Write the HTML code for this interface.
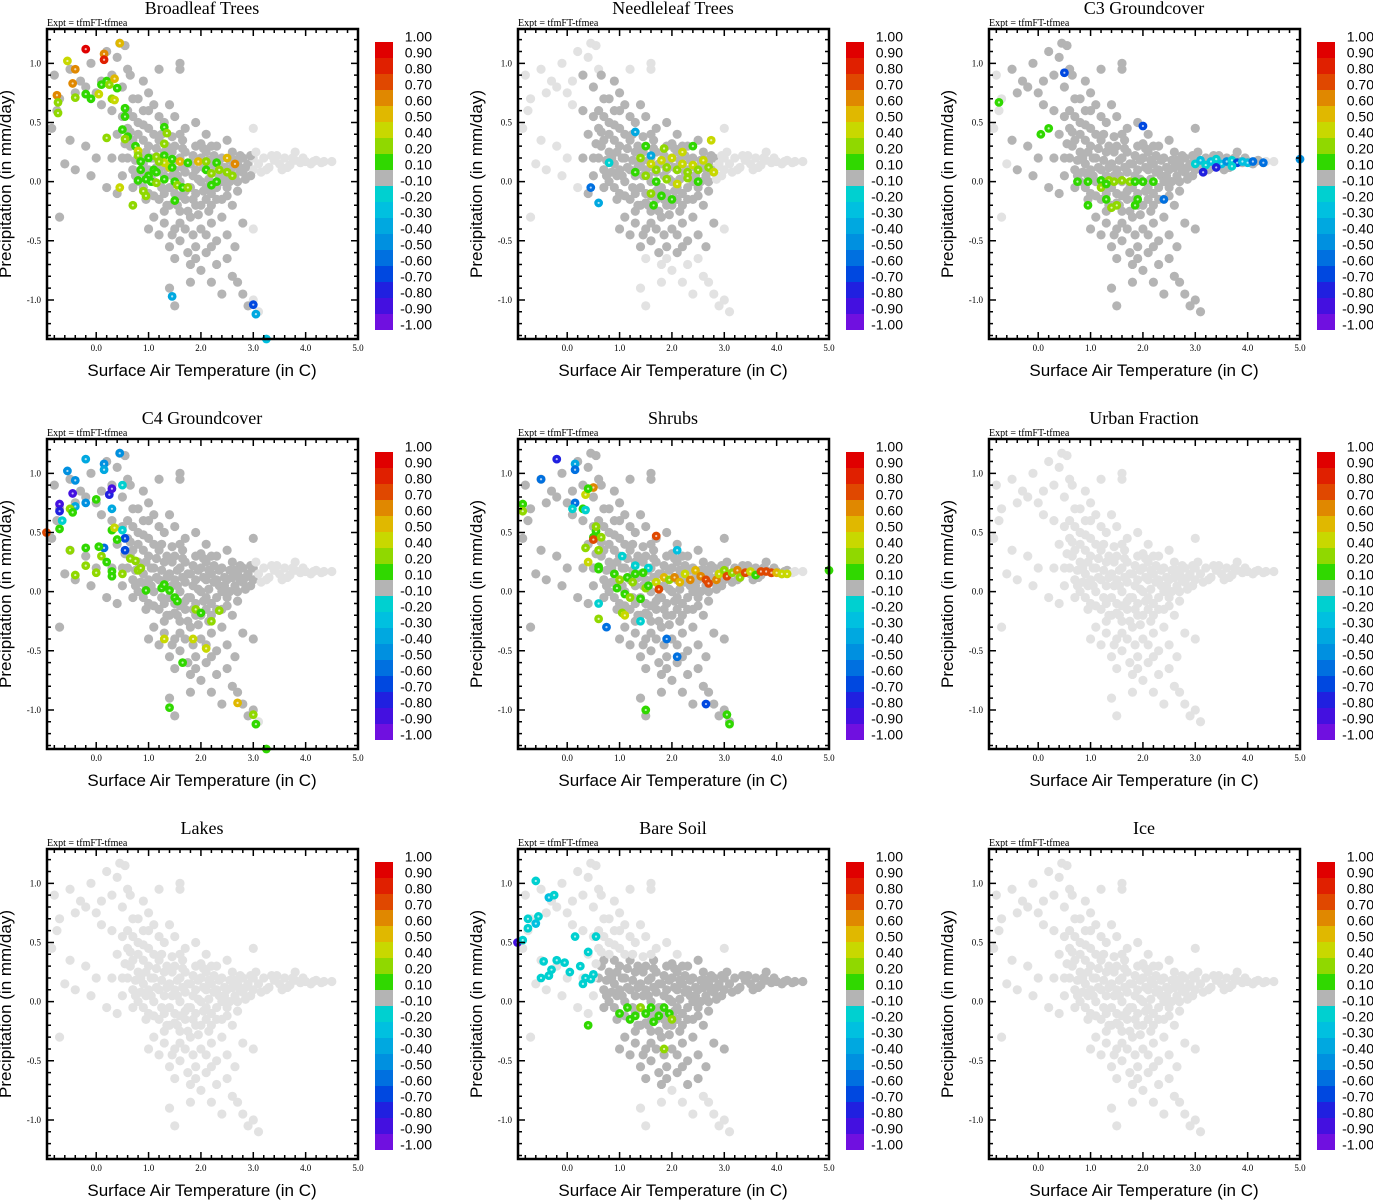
<!DOCTYPE html>
<html><head><meta charset="utf-8">
<style>
html,body{margin:0;padding:0;background:#fff;}
svg{display:block;}
.ttl{font-family:"Liberation Serif",serif;font-size:18px;}
.expt{font-family:"Liberation Serif",serif;font-size:10px;}
.tick{font-family:"Liberation Serif",serif;font-size:9px;}
.axt{font-family:"Liberation Sans",sans-serif;font-size:17px;}
.cbl{font-family:"Liberation Sans",sans-serif;font-size:14px;}
</style></head>
<body>
<svg id="fig" width="1373" height="1200" viewBox="0 0 1373 1200" xmlns="http://www.w3.org/2000/svg"></svg>
<script>
// ---------- data ----------
const panelTitles = ["Broadleaf Trees","Needleleaf Trees","C3 Groundcover","C4 Groundcover","Shrubs","Urban Fraction","Lakes","Bare Soil","Ice"];
const xTickVals = [0,1,2,3,4,5];
const xTickLabels = ["0.0","1.0","2.0","3.0","4.0","5.0"];
const yTickVals = [1,0.5,0,-0.5,-1];
const yTickLabels = ["1.0","0.5","0.0","-0.5","-1.0"];
const cbLabels = ["1.00","0.90","0.80","0.70","0.60","0.50","0.40","0.20","0.10","-0.10","-0.20","-0.30","-0.40","-0.50","-0.60","-0.70","-0.80","-0.90","-1.00"];
const cbBounds = [1,0.9,0.8,0.7,0.6,0.5,0.4,0.2,0.1,-0.1,-0.2,-0.3,-0.4,-0.5,-0.6,-0.7,-0.8,-0.9,-1];
const cbColors = ["#e00000","#e02000","#e04800","#e08800","#e0b800","#c8d800","#90d800","#30d800","#b4b4b4","#00d0d0","#00c0e0","#00a8e0","#0090e0","#0070e0","#0048e0","#2020e0","#4410e0","#7010e0"];

// base cloud: [temperature, precipitation]
const baseCloud = [
[0.6,0.2],[0.7,0.1],[0.8,0.25],[0.8,0.0],[0.9,0.15],[0.9,-0.05],[1.0,0.3],[1.0,0.1],[1.0,-0.1],[1.1,0.2],[1.1,0.0],[1.2,0.35],[1.2,0.1],[1.2,-0.15],[1.3,0.25],[1.3,0.05],[1.4,0.15],[1.4,-0.05],[1.4,-0.2],[1.5,0.3],[1.5,0.1],[1.5,-0.1],[1.6,0.2],[1.6,0.0],[1.6,-0.25],[1.7,0.25],[1.7,0.08],[1.7,-0.15],[1.8,0.15],[1.8,-0.05],[1.8,-0.3],[1.9,0.3],[1.9,0.1],[1.9,-0.1],[2.0,0.2],[2.0,0.0],[2.0,-0.2],[2.1,0.25],[2.1,0.1],[2.1,-0.05],[2.2,0.15],[2.2,-0.1],[2.3,0.3],[2.3,0.1],[2.3,-0.15],[2.4,0.2],[2.4,0.0],[2.5,0.1],[2.5,-0.05],[2.6,0.25],[2.6,0.12],[2.7,0.15],[2.7,0.0],[2.8,0.2],[2.8,0.08],[2.9,0.15],[3.0,0.1],[3.0,0.2],
[0.75,0.05],[0.85,0.2],[0.95,0.05],[1.05,0.2],[1.15,0.12],[1.25,-0.05],[1.35,0.12],[1.45,0.25],[1.55,0.05],[1.65,0.12],[1.75,-0.05],[1.85,0.22],[1.95,0.02],[2.05,0.12],[2.15,0.02],[2.25,0.22],[2.35,0.05],[2.45,0.12],[2.55,0.18],[2.65,0.05],[2.75,0.22],[2.85,0.12],[2.95,0.05],[1.3,-0.25],[1.55,-0.2],[1.75,-0.25],[1.95,-0.28],[2.15,-0.25],[2.4,-0.15],
[0.65,0.3],[0.75,0.18],[0.85,0.08],[0.95,0.25],[1.05,0.05],[1.15,0.28],[1.25,0.18],[1.35,0.3],[1.45,0.05],[1.55,0.18],[1.65,0.28],[1.75,0.15],[1.85,0.05],[1.95,0.18],[2.05,0.28],[2.15,0.18],[2.25,0.08],[2.35,0.18],[2.45,0.05],[2.55,0.0],[2.65,0.18],[2.75,0.1],[2.85,0.02],[2.95,0.22],[1.1,-0.12],[1.3,-0.1],[1.5,-0.18],[1.7,-0.08],[1.9,-0.2],[2.1,-0.15],[2.3,-0.05],[2.5,-0.12],[2.7,-0.08],[1.25,0.4],[1.45,0.38],[1.65,0.35],[0.9,0.35],[1.1,0.4],[2.0,0.32],[2.2,0.3],[1.35,-0.2],[1.6,-0.12],[1.85,-0.15],[2.05,-0.08],[0.7,-0.05],[0.95,-0.15],
[3.1,0.15],[3.2,0.2],[3.3,0.12],[3.4,0.18],[3.5,0.15],[3.6,0.2],[3.7,0.14],[3.8,0.18],[3.9,0.16],[4.0,0.17],[4.1,0.15],[4.2,0.18],[4.3,0.16],[4.5,0.17],[3.8,0.25],[3.15,0.08],[3.35,0.22],[3.55,0.1],[3.75,0.2],[3.05,0.25],[3.25,0.1],[3.45,0.22],[3.65,0.12],[3.95,0.2],[4.15,0.17],[4.35,0.17],
[-0.8,0.9],[-0.7,0.7],[-0.75,0.6],[-0.85,0.45],[-0.5,0.95],[-0.4,0.75],[-0.3,0.85],[-0.2,0.8],[-0.1,1.0],[0.0,0.75],[0.1,0.85],[0.2,1.1],[0.3,0.9],[0.4,1.05],[0.5,0.8],[0.6,0.95],[0.7,0.7],[0.1,0.65],[0.3,0.6],[0.5,0.55],[0.6,0.45],[0.8,0.5],[0.9,0.6],[1.0,0.75],[1.2,0.55],[1.4,0.65],[1.7,0.45],[1.9,0.5],[2.1,0.4],[2.5,0.35],[-0.5,0.35],[-0.2,0.3],[0.0,0.2],[-0.4,0.1],[0.4,0.4],[0.3,0.2],[0.2,-0.05],[0.4,-0.1],[-0.7,-0.3],[1.2,0.95],[0.9,0.85],[1.6,0.95],[3.0,0.45],[0.5,0.2],[0.7,0.35],[0.6,0.6],[0.8,0.4],[1.0,0.45],[1.1,0.65],[1.3,0.5],[1.5,0.55],[1.6,0.4],[0.7,0.1],[0.5,0.05],[-0.6,0.15],[-0.1,0.05],[0.45,1.17],[0.55,1.15],[0.65,0.9],[1.6,1.0],[0.8,0.7],[0.7,0.55],[0.9,0.48],[1.0,0.6],[0.55,0.32],[0.65,0.42],
[1.3,-0.35],[1.5,-0.4],[1.7,-0.4],[2.0,-0.4],[2.2,-0.35],[2.5,-0.45],[1.4,-0.55],[1.6,-0.5],[1.9,-0.55],[2.1,-0.6],[2.3,-0.5],[1.5,-0.65],[1.8,-0.7],[2.0,-0.75],[2.3,-0.7],[2.5,-0.65],[2.6,-0.8],[1.8,-0.85],[2.7,-0.85],[1.4,-0.9],[2.4,-0.95],[2.8,-0.95],[3.0,-1.0],[2.9,-1.05],[3.1,-1.1],[1.5,-1.05],[2.8,-0.35],[3.0,-0.4],[1.0,-0.4],[2.2,-0.2],[2.6,-0.2],[1.1,-0.3],[1.75,-0.6],[2.2,-0.85],[1.2,-0.45],[2.65,-0.55],[1.6,-0.35],[1.85,-0.45],[2.1,-0.45],[2.4,-0.3],[1.45,-0.45],[1.9,-0.65],[2.2,-0.55]
];

// per-panel dark-gray region [tMin,tMax,pMin,pMax] (null = none)
const grayRegions = [[-0.95,2.95,-1.2,1.25],[0.3,2.8,-0.6,0.9],[-0.5,4.3,-1.2,1.25],[-0.95,3.0,-1.2,1.25],[-0.95,4.2,-1.2,1.25],null,null,[0.6,4.5,-0.7,0.35],null];

// colored points per panel: [t, p, value]
const broadleafPts = [[-0.2,1.12,0.95],[0.15,1.08,0.65],[0.15,1.03,0.85],[0.45,1.17,0.55],[-0.55,1.02,0.45],[-0.4,0.95,0.65],[-0.45,0.83,0.65],[-0.75,0.73,0.65],[-0.73,0.67,0.3],[-0.73,0.58,0.3],[-0.4,0.71,0.3],[-0.2,0.74,0.15],[0.05,0.74,0.45],[-0.1,0.7,0.15],[0.1,0.82,0.15],[0.2,0.85,0.15],[0.25,0.82,0.3],[0.35,0.87,0.55],[0.4,0.79,0.15],[0.3,0.7,0.3],[0.35,0.69,0.45],[0.55,0.62,0.15],[0.55,0.55,0.15],[0.2,0.37,0.3],[0.6,0.38,0.15],[0.55,0.36,0.3],[0.5,0.44,0.15],[1.3,0.46,0.15],[1.35,0.41,0.3],[1.3,0.32,0.3],[0.75,0.3,0.15],[0.8,0.26,0.45],[0.8,0.22,0.3],[1.0,0.2,0.15],[1.15,0.21,0.3],[1.3,0.22,0.15],[0.85,0.17,0.15],[1.3,0.16,0.45],[1.2,0.17,0.3],[1.45,0.19,0.15],[1.6,0.17,0.55],[1.4,0.12,0.45],[0.85,0.1,0.15],[1.1,0.1,0.15],[1.45,0.12,0.15],[1.75,0.16,0.15],[1.95,0.17,0.55],[2.1,0.17,0.3],[2.3,0.16,0.15],[2.5,0.2,0.55],[2.65,0.15,0.65],[2.5,0.08,0.3],[2.6,0.05,0.3],[2.1,0.1,0.15],[2.2,0.07,0.3],[2.35,0.1,0.3],[1.0,0.05,0.15],[1.15,0.08,0.15],[0.8,0.01,0.15],[0.95,0.02,0.15],[1.05,0.0,0.15],[1.15,-0.01,0.3],[1.3,0.02,0.15],[1.5,0.0,0.15],[1.55,-0.03,0.3],[1.65,-0.05,0.15],[1.75,-0.05,0.3],[2.2,-0.03,0.15],[2.3,0.0,0.15],[0.9,-0.08,0.3],[0.95,-0.12,0.3],[1.5,-0.16,0.15],[0.7,-0.2,0.3],[0.45,-0.05,0.45],[1.45,-0.97,-0.35],[3.0,-1.04,-0.65],[3.05,-1.12,-0.35],[3.25,-1.33,-0.25]];
const needleleafPts = [[1.3,0.42,-0.35],[0.8,0.16,-0.15],[0.45,-0.05,-0.55],[0.6,-0.18,-0.35],[1.6,0.22,-0.35],[1.5,0.3,0.15],[1.4,0.2,0.3],[1.6,0.15,0.45],[1.7,0.1,0.3],[1.8,0.18,0.45],[1.9,0.12,0.3],[2.0,0.2,0.45],[2.1,0.1,0.3],[2.2,0.15,0.45],[2.3,0.08,0.3],[2.4,0.14,0.45],[2.5,0.1,0.3],[2.6,0.18,0.45],[2.7,0.12,0.3],[2.8,0.08,0.45],[1.5,0.05,0.3],[1.7,0.0,0.15],[1.9,0.02,0.3],[2.1,-0.02,0.45],[2.3,0.03,0.3],[2.5,0.0,0.15],[1.6,-0.1,0.3],[1.8,-0.12,0.15],[2.0,-0.15,0.15],[1.65,-0.2,0.15],[2.4,0.3,0.15],[2.75,0.35,0.45],[1.85,0.28,0.3],[2.2,0.25,0.45],[1.3,0.08,0.15]];
const c3Pts = [[-0.75,0.67,0.15],[0.2,0.45,0.15],[0.05,0.4,0.15],[0.5,0.92,-0.65],[2.0,0.47,-0.65],[3.0,0.15,-0.15],[3.1,0.18,-0.25],[3.2,0.14,-0.15],[3.3,0.17,-0.25],[3.4,0.19,-0.15],[3.5,0.15,-0.25],[3.6,0.17,-0.45],[3.7,0.18,-0.15],[3.8,0.16,-0.65],[3.9,0.17,-0.25],[4.0,0.16,-0.25],[4.1,0.17,-0.55],[4.3,0.16,-0.55],[5.0,0.19,-0.45],[3.15,0.08,-0.75],[3.4,0.12,-0.75],[3.7,0.13,-0.15],[0.75,0.0,0.15],[0.95,0.0,0.15],[1.2,0.01,0.15],[1.35,0.01,0.3],[1.45,0.0,0.3],[1.6,0.01,0.3],[1.75,0.0,0.3],[1.85,0.0,0.15],[2.0,0.0,0.15],[2.2,0.0,0.15],[1.2,-0.05,0.3],[1.3,-0.02,0.15],[1.3,-0.15,0.15],[1.5,-0.2,0.3],[1.4,-0.22,0.3],[1.9,-0.15,0.15],[1.85,-0.2,0.15],[0.95,-0.2,0.15],[2.4,-0.15,-0.55]];
const c4Pts = [[-0.95,0.5,0.75],[-0.7,0.74,-0.85],[-0.7,0.68,-0.75],[-0.65,0.6,-0.15],[-0.7,0.53,0.15],[-0.55,1.02,-0.45],[-0.45,0.83,-0.85],[-0.4,0.94,-0.45],[-0.2,1.12,-0.35],[-0.2,0.75,-0.45],[-0.4,0.72,-0.35],[-0.5,0.7,0.3],[-0.45,0.67,0.15],[0.0,0.78,0.15],[0.15,1.08,-0.45],[0.15,1.03,-0.35],[0.25,0.82,-0.75],[0.3,0.87,-0.85],[0.45,1.17,-0.45],[0.5,0.9,-0.15],[0.3,0.7,-0.35],[0.3,0.52,0.15],[0.35,0.54,0.45],[0.5,0.52,-0.15],[0.55,0.45,-0.65],[0.55,0.35,-0.65],[0.4,0.44,0.15],[0.15,0.37,-0.55],[-0.5,0.35,0.3],[-0.2,0.37,0.15],[0.05,0.38,0.15],[0.1,0.3,0.3],[-0.2,0.22,0.3],[-0.4,0.14,0.3],[0.0,0.16,0.3],[0.2,0.25,0.15],[0.3,0.17,0.15],[0.3,0.13,0.15],[0.5,0.15,0.3],[0.65,0.28,0.3],[0.75,0.26,0.3],[0.8,0.18,0.3],[0.85,0.2,0.3],[0.95,0.01,0.15],[1.25,0.03,0.15],[1.3,0.06,0.15],[1.4,0.01,0.15],[1.5,-0.05,0.15],[1.55,-0.08,0.15],[1.9,-0.15,0.3],[2.0,-0.18,0.15],[2.2,-0.25,0.3],[2.35,-0.16,0.3],[1.3,-0.4,0.45],[1.85,-0.4,0.45],[2.1,-0.48,0.45],[1.65,-0.6,0.15],[1.4,-0.98,0.15],[2.7,-0.94,0.55],[3.0,-1.04,0.3],[3.05,-1.12,0.15],[3.25,-1.33,0.15]];
const shrubsPts = [[-0.2,1.12,-0.75],[0.15,1.08,-0.35],[0.15,1.03,-0.55],[-0.5,0.95,-0.55],[0.5,0.88,0.65],[0.35,0.82,0.45],[0.4,0.87,0.15],[-0.85,0.74,0.15],[-0.85,0.68,0.3],[0.15,0.75,-0.55],[0.1,0.7,-0.15],[0.3,0.7,0.15],[0.35,0.69,-0.15],[0.55,0.51,0.15],[0.55,0.55,0.3],[0.5,0.46,0.15],[0.5,0.44,0.75],[0.65,0.46,0.3],[0.35,0.37,0.3],[0.6,0.35,0.3],[0.4,0.25,0.45],[0.6,0.21,0.15],[1.7,0.47,0.75],[1.05,0.3,-0.15],[2.1,0.35,-0.25],[1.3,0.22,-0.15],[1.55,0.2,-0.15],[0.9,0.15,0.15],[1.0,0.1,0.3],[1.15,0.12,0.15],[1.3,0.15,0.15],[1.45,0.16,0.15],[0.95,0.03,0.15],[1.1,-0.02,0.15],[1.2,-0.05,0.3],[1.5,0.03,0.3],[1.55,0.05,0.15],[1.7,0.08,0.45],[1.85,0.12,0.55],[1.95,0.1,0.3],[2.05,0.12,0.65],[2.15,0.08,0.55],[2.25,0.15,0.45],[2.35,0.1,0.65],[2.45,0.18,0.55],[2.55,0.13,0.65],[2.65,0.1,0.75],[2.7,0.07,0.75],[2.85,0.1,0.65],[2.9,0.15,0.45],[3.0,0.18,0.3],[3.05,0.13,0.75],[3.15,0.16,0.3],[3.25,0.18,0.65],[3.3,0.12,0.3],[3.4,0.16,0.75],[3.5,0.17,0.45],[3.6,0.14,0.15],[3.7,0.17,0.75],[3.8,0.17,0.75],[3.9,0.16,0.75],[4.0,0.16,0.55],[4.1,0.15,0.45],[4.2,0.15,0.45],[5.0,0.18,0.15],[1.75,0.02,0.75],[1.25,0.08,0.3],[1.4,-0.06,0.15],[1.05,-0.18,0.3],[1.1,-0.2,0.45],[0.6,-0.23,0.3],[0.6,-0.1,-0.15],[1.4,-0.25,-0.15],[0.75,-0.3,-0.55],[1.9,-0.4,-0.55],[2.1,-0.55,-0.55],[2.65,-0.95,-0.65],[1.5,-1.0,0.15],[3.05,-1.04,0.15],[3.1,-1.12,0.15],[0.6,0.19,0.15]];
const urbanPts = [];
const lakesPts = [];
const bareSoilPts = [[-0.95,0.5,-0.85],[-0.85,0.52,-0.15],[-0.75,0.7,-0.15],[-0.75,0.62,-0.15],[-0.6,0.66,-0.25],[-0.55,0.72,-0.15],[-0.6,1.02,-0.15],[-0.35,0.88,-0.25],[-0.25,0.9,-0.15],[-0.45,0.34,-0.15],[-0.3,0.27,-0.15],[-0.2,0.35,-0.15],[-0.05,0.33,-0.15],[0.05,0.25,-0.15],[0.25,0.3,-0.15],[0.35,0.2,-0.15],[0.45,0.19,-0.15],[0.5,0.23,-0.15],[0.3,0.15,-0.15],[-0.35,0.22,-0.15],[-0.5,0.2,-0.15],[0.4,0.42,-0.15],[0.55,0.55,-0.15],[0.15,0.55,-0.15],[0.4,-0.2,0.15],[1.0,-0.1,0.15],[1.15,-0.05,0.15],[1.3,-0.12,0.15],[1.4,-0.05,0.3],[1.5,-0.1,0.15],[1.6,-0.05,0.15],[1.75,-0.12,0.15],[1.85,-0.05,0.15],[1.95,-0.1,0.15],[2.0,-0.15,0.3],[1.2,-0.15,0.15],[1.65,-0.17,0.15],[1.85,-0.4,0.3]];
const icePts = [];
const panelPts = [broadleafPts,needleleafPts,c3Pts,c4Pts,shrubsPts,urbanPts,lakesPts,bareSoilPts,icePts];

// ---------- drawing ----------
const NS="http://www.w3.org/2000/svg";
const svg=document.getElementById('fig');
const FW=311, FH=310, XMIN=-0.94, XMAX=5.0, YMIN=-1.33, YMAX=1.29;
function mk(tag,attrs,parent){const e=document.createElementNS(NS,tag);for(const k in attrs)e.setAttribute(k,attrs[k]);(parent||svg).appendChild(e);return e;}
function colorFor(v){for(let i=0;i<cbColors.length;i++){if(v<cbBounds[i]&&v>=cbBounds[i+1])return cbColors[i];}return v>0?cbColors[0]:cbColors[cbColors.length-1];}

panelTitles.forEach((title,k)=>{
  const c=k%3, r=Math.floor(k/3);
  const fx=47+471*c, fy=29+410*r;
  const sx=t=>fx+(t-XMIN)/(XMAX-XMIN)*FW;
  const sy=p=>fy+(YMAX-p)/(YMAX-YMIN)*FH;
  const g=mk('g',{});
  
  

  const tt=mk('text',{x:fx+155,y:fy-15,'text-anchor':'middle',class:'ttl'},g);
  tt.textContent=title;
  
  
  const ex=mk('text',{x:fx,y:fy-3,class:'expt'},g);
  ex.textContent='Expt = tfmFT-tfmea';
  
  

  const pg=mk('g',{},g);
  
  
  const reg=grayRegions[k];
  baseCloud.forEach(([t,p])=>{
    const dark=reg&&t>=reg[0]&&t<=reg[1]&&p>=reg[2]&&p<=reg[3];
    const pt=mk('circle',{cx:sx(t),cy:sy(p),r:4.6,fill:dark?'#b4b4b4':'#e2e2e2'},pg);
    
    
  });
  panelPts[k].forEach(([t,p,v])=>{
    const pt=mk('circle',{cx:sx(t),cy:sy(p),r:4.4,fill:colorFor(v)},pg);
    
    
    mk('circle',{cx:sx(t),cy:sy(p),r:1.1,fill:'#ffffff','fill-opacity':0.7},pg);
  });

  const fr=mk('rect',{x:fx,y:fy,width:FW,height:FH,fill:'none',stroke:'#000','stroke-width':2.5},g);
  
  
  let d='';
  for(let i=-4;i<=25;i++){const t=i*0.2;if(t<XMIN||t>XMAX)continue;const x=sx(t);const L=(i%5===0)?7:4;d+=`M${x},${fy+FH}v${-L}M${x},${fy}v${L}`;}
  for(let i=-13;i<=12;i++){const p=i*0.1;if(p<YMIN||p>YMAX)continue;const y=sy(p);const L=(i%5===0)?7:4;d+=`M${fx},${y}h${L}M${fx+FW},${y}h${-L}`;}
  mk('path',{d:d,stroke:'#000','stroke-width':1.5,fill:'none'},g);
  xTickVals.forEach((t,i)=>{const e=mk('text',{x:sx(t),y:fy+FH+12,'text-anchor':'middle',class:'tick'},g);e.textContent=xTickLabels[i];
    
    });
  yTickVals.forEach((p,i)=>{const e=mk('text',{x:fx-6,y:sy(p)+3,'text-anchor':'end',class:'tick'},g);e.textContent=yTickLabels[i];
    
    });
  const xt=mk('text',{x:fx+155,y:fy+FH+37,'text-anchor':'middle',class:'axt'},g);
  xt.textContent='Surface Air Temperature (in C)';
  
  
  const yt=mk('text',{x:0,y:0,'text-anchor':'middle',class:'axt',transform:`translate(${fx-36},${fy+155}) rotate(-90)`},g);
  yt.textContent='Precipitation (in mm/day)';
  
  

  const cb=mk('g',{},g);
  
  
  const cx=fx+328, cy=fy+13, ch=16;
  cbColors.forEach((col,i)=>{
    const b=mk('rect',{x:cx,y:cy+i*ch,width:18,height:ch+(i<cbColors.length-1?0.5:0),fill:col},cb);
    
    
  });
  cbLabels.forEach((l,i)=>{const e=mk('text',{x:fx+385,y:cy+i*ch-0.5,'text-anchor':'end',class:'cbl'},cb);e.textContent=l;
    
    });
});
</script>
</body></html>
